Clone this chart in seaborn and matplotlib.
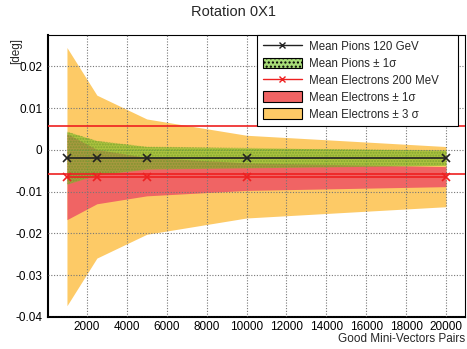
import numpy as np
import pandas as pd
import matplotlib
matplotlib.use("Agg")
import matplotlib.pyplot as plt
import seaborn as sns
from matplotlib.ticker import MultipleLocator, FuncFormatter
from matplotlib.lines import Line2D
from matplotlib.patches import Patch

# ---- data ----
pairs = [1000, 2500, 5000, 10000, 20000]
pion_mean = [-0.0019, -0.0019, -0.0019, -0.0019, -0.0019]
pion_sigma = [0.0063, 0.0041, 0.0027, 0.0024, 0.0018]
elec_mean = [-0.0064, -0.0064, -0.0064, -0.0064, -0.0064]
elec_sigma = [0.0103, 0.0065, 0.0046, 0.0033, 0.0024]
limit = 0.0058

title = "Rotation 0X1"
xlabel = "Good Mini-Vectors Pairs"
ylabel = "[deg]"
legend_labels = ["Mean Pions 120 GeV", "Mean Pions \u00b1 1\u03c3",
                 "Mean Electrons 200 MeV", "Mean Electrons \u00b1 1\u03c3",
                 "Mean Electrons \u00b1 3 \u03c3"]

df = pd.DataFrame({"pairs": pairs, "pion": pion_mean, "pion_s": pion_sigma,
                   "elec": elec_mean, "elec_s": elec_sigma})

sns.set_style("white")
plt.rcParams['font.family'] = ['Liberation Sans', 'DejaVu Sans']

fig = plt.figure(figsize=(4.67, 3.49), dpi=100)
ax = fig.add_axes([0.1028, 0.0917, 0.8929, 0.808])

orange = "#fdca66"
red_band = "#f06464"
green = "#78be28"

x = df["pairs"].to_numpy()
em = df["elec"].to_numpy(); es = df["elec_s"].to_numpy()
pm = df["pion"].to_numpy(); ps = df["pion_s"].to_numpy()

ax.fill_between(x, em - 3 * es, em + 3 * es, color=orange, lw=0, zorder=1)
ax.fill_between(x, em - es, em + es, color=red_band, lw=0, zorder=2)
ax.fill_between(x, pm - ps, pm + ps, facecolor=green, alpha=0.6, lw=0, zorder=3)
ax.fill_between(x, pm - ps, pm + ps, facecolor="none", edgecolor="#5a9020",
                hatch="......", lw=0, alpha=0.5, zorder=3)

ax.axhline(limit, color="#ee2020", lw=1.2, zorder=4)
ax.axhline(-limit, color="#ee2020", lw=1.2, zorder=4)

sns.lineplot(data=df, x="pairs", y="pion", ax=ax, color="#222222", lw=1.2,
             marker="x", markersize=6, markeredgewidth=1.2,
             markeredgecolor="#222222", zorder=5)
sns.lineplot(data=df, x="pairs", y="elec", ax=ax, color="#ee2020", lw=1.2,
             marker="x", markersize=6, markeredgewidth=1.2,
             markeredgecolor="#ee2020", zorder=5)

ax.set_xlim(50, 20950)
ax.set_ylim(-0.04, 0.0275)

ax.xaxis.set_major_locator(MultipleLocator(2000))
ax.xaxis.set_minor_locator(MultipleLocator(400))
ax.yaxis.set_major_locator(MultipleLocator(0.01))
ax.yaxis.set_minor_locator(MultipleLocator(0.002))

def yfmt(v, p):
    v = round(v, 4)
    if abs(v) < 1e-9:
        return "0"
    return "%.2f" % v
ax.yaxis.set_major_formatter(FuncFormatter(yfmt))
ax.xaxis.set_major_formatter(FuncFormatter(lambda v, p: "%d" % v))

ax.tick_params(axis="both", which="both", direction="in", labelsize=8.5,
               top=False, right=False, colors="black")
ax.tick_params(which="major", length=7, width=0.8)
ax.tick_params(which="minor", length=3.5, width=0.8)
ax.tick_params(axis="x", pad=3)
ax.tick_params(axis="y", pad=4)

ax.grid(True, which="major", ls=(0, (1, 1.5)), color="#777777", lw=0.8)
ax.set_axisbelow(False)
for s in ax.spines.values():
    s.set_color("black")
    s.set_linewidth(0.8)
ax.spines["left"].set_linewidth(1.5)
ax.spines["bottom"].set_linewidth(1.5)

ax.set_xlabel("")
ax.set_ylabel("")
fig.text(0.995, 0.012, xlabel, ha="right", va="bottom", fontsize=8.5)
fig.text(0.035, 0.89, ylabel, ha="center", va="top", rotation=90, fontsize=8.5)
fig.suptitle(title, y=0.985, fontsize=10.5)

handles = [
    Line2D([0], [0], color="#222222", lw=1, marker="x", markersize=5),
    Patch(facecolor="#a8dc78", edgecolor="black", hatch="....", lw=0.8),
    Line2D([0], [0], color="#ee2020", lw=1, marker="x", markersize=5),
    Patch(facecolor=red_band, edgecolor="black", lw=0.8),
    Patch(facecolor=orange, edgecolor="black", lw=0.8),
]
leg = ax.legend(handles, legend_labels, loc="upper left",
                bbox_to_anchor=(0.501, 0.0, 0.482, 1.0), mode="expand",
                borderaxespad=0, fontsize=8.3,
                frameon=True, fancybox=False, framealpha=1, edgecolor="black",
                handlelength=3.4, handleheight=1.05, borderpad=0.5,
                labelspacing=0.4, handletextpad=0.6)
leg.get_frame().set_linewidth(0.8)
leg.set_zorder(10)

fig.savefig("out.png", dpi=100)
